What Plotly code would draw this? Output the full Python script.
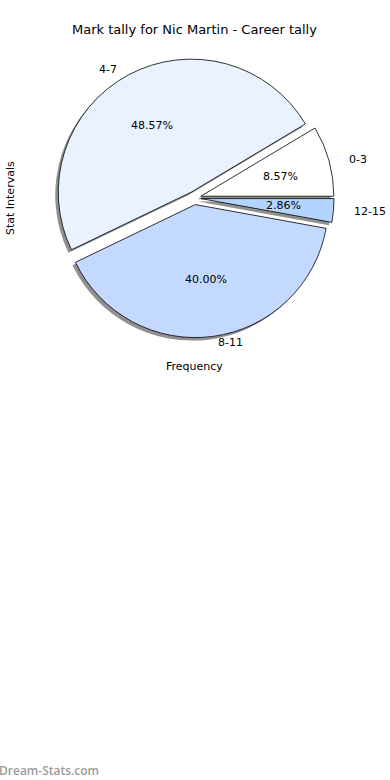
import math
import plotly.graph_objects as go

labels = ["0-3", "4-7", "8-11", "12-15"]
counts = [3, 17, 14, 1]
colors = ["#ffffff", "#eaf2ff", "#c4d9ff", "#b3d4ff"]
explode = [0.05, 0.05, 0.05, 0.05]

title = "Mark tally for Nic Martin - Career tally"
xlabel = "Frequency"
ylabel = "Stat Intervals"
watermark = "Dream-Stats.com"

W, H = 390, 780
cx, cy = 194.4, 198.0      # pie centre (px)
R = 133                     # drawn pie radius (px)
rx, ry = 137.5, 126.5       # text placement radii (px)
pctdistance, labeldistance = 0.6, 1.1
half = R * (1 + max(explode))
total = sum(counts)
rotation = 90 - 360 * counts[0] / total   # first slice starts at 3 o'clock, counter-clockwise


def dom(dx=0, dy=0):
    return dict(x=[(cx - half + dx) / W, (cx + half + dx) / W],
                y=[1 - (cy + half + dy) / H, 1 - (cy - half + dy) / H])


fig = go.Figure()
# anchor trace for the hidden pixel axes used to place texts
fig.add_trace(go.Scatter(x=[0, W], y=[0, H], mode="markers", marker=dict(opacity=0),
                         hoverinfo="skip", showlegend=False))
# shadow
fig.add_trace(go.Pie(labels=labels, values=counts, sort=False, direction="counterclockwise",
                     rotation=rotation, pull=explode, domain=dom(-3, 3), textinfo="none", hoverinfo="skip",
                     marker=dict(colors=["rgba(70,70,70,0.6)"] * 4, line=dict(width=0)),
                     showlegend=False))
# slices
fig.add_trace(go.Pie(labels=labels, values=counts, sort=False, direction="counterclockwise",
                     rotation=rotation, pull=explode, domain=dom(), textinfo="none",
                     marker=dict(colors=colors, line=dict(color="black", width=0.8)),
                     showlegend=False))

annotations = []
cum = 0
for lab, c, ex in zip(labels, counts, explode):
    mid = math.radians(360 * (cum + c / 2) / total)
    cum += c
    ux, uy = math.cos(mid), math.sin(mid)
    ox, oy = cx + ex * rx * ux, cy - ex * ry * uy
    pct = 100 * c / total
    annotations.append(dict(text=f"{pct:.2f}%", x=ox + pctdistance * rx * ux, y=oy - pctdistance * ry * uy,
                            xref="x", yref="y", showarrow=False, xanchor="center", yanchor="middle",
                            font=dict(family="DejaVu Sans", size=11, color="black")))
    annotations.append(dict(text=lab, x=ox + labeldistance * rx * ux, y=oy - labeldistance * ry * uy,
                            xref="x", yref="y", showarrow=False,
                            xanchor="left" if ux > 0 else "right", yanchor="middle",
                            font=dict(family="DejaVu Sans", size=11, color="black")))

annotations += [
    dict(text=title, x=194 / W, y=1 - 30 / H, xref="paper", yref="paper", showarrow=False,
         font=dict(family="DejaVu Sans", size=13, color="black"), xanchor="center", yanchor="middle"),
    dict(text=xlabel, x=194 / W, y=1 - 366 / H, xref="paper", yref="paper", showarrow=False,
         font=dict(family="DejaVu Sans", size=11, color="black"), xanchor="center", yanchor="middle"),
    dict(text=ylabel, x=10 / W, y=1 - 198 / H, xref="paper", yref="paper", showarrow=False, textangle=-90,
         font=dict(family="DejaVu Sans", size=11, color="black"), xanchor="center", yanchor="middle"),
    dict(text=watermark, x=-3 / W, y=1 - 770 / H, xref="paper", yref="paper", showarrow=False,
         font=dict(family="Open Sans", size=12, color="#9a9a9a", weight=600), xanchor="left", yanchor="middle"),
]

fig.update_layout(
    width=W, height=H, margin=dict(l=0, r=0, t=0, b=0),
    paper_bgcolor="white", plot_bgcolor="rgba(0,0,0,0)",
    xaxis=dict(range=[0, W], visible=False, fixedrange=True, domain=[0, 1]),
    yaxis=dict(range=[H, 0], visible=False, fixedrange=True, domain=[0, 1]),
    annotations=annotations,
)

fig.write_html("out.html")
